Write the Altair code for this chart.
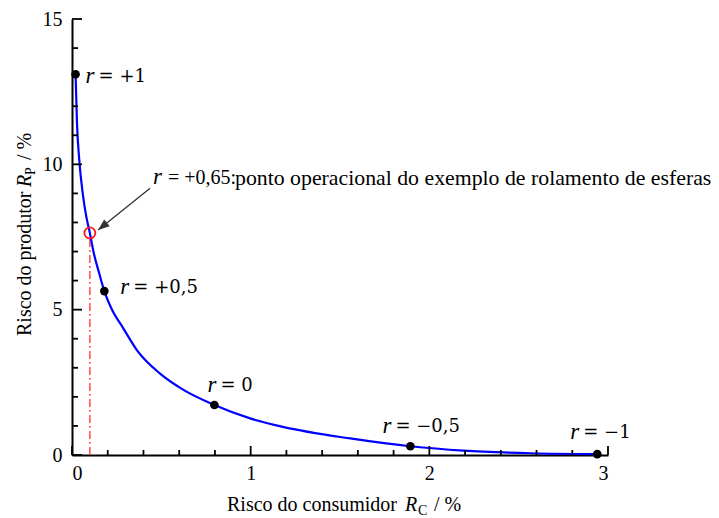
import altair as alt
import pandas as pd

# Producer risk vs consumer risk (%), traced along the correlation r
curve_rc = [0.02, 0.028, 0.04, 0.06, 0.08, 0.10, 0.12, 0.15, 0.181, 0.22, 0.288,
            0.362, 0.493, 0.624, 0.797, 0.997, 1.18, 1.557, 1.894, 2.19, 2.57, 2.94]
curve_rp = [13.1, 11.4, 10.2, 9.0, 8.2, 7.64, 7.0, 6.3, 5.64, 5.05, 4.35,
            3.62, 2.8, 2.24, 1.72, 1.26, 0.97, 0.57, 0.30, 0.15, 0.06, 0.03]

# Marked correlation values on the curve
point_rc = [0.02, 0.181, 0.797, 1.894, 2.94]
point_rp = [13.1, 5.64, 1.72, 0.30, 0.03]
point_labels = ["= +1", "= +0,5", "= 0", "= \u22120,5", "= \u22121"]

# Operating point of the ball-bearing example (r = +0,65)
op_rc = [0.10]
op_rp = [7.64]
op_label = "= +0,65:"
op_text = "ponto operacional do exemplo de rolamento de esferas"

# Arrow from the annotation to the operating point
arrow_rc = [0.437]
arrow_rp = [9.18]
arrow_tip_rc = [0.146]
arrow_tip_rp = [7.74]

x_major = [0, 1, 2, 3]
y_major = [0, 5, 10, 15]
X_TICK_STEP, Y_TICK_STEP = 0.2, 1

W, H = 536, 436
X_MAX, Y_MAX = 3, 15
SERIF = "Liberation Serif, 'Times New Roman', Times, serif"
MATH = "'DejaVu Serif', serif"

x_scale = alt.Scale(domain=[0, X_MAX], nice=False, zero=False)
y_scale = alt.Scale(domain=[0, Y_MAX], nice=False, zero=False)
x_axis = alt.Axis(values=x_major, format="d", grid=False, ticks=False, tickSize=0,
                  domainColor="black", domainWidth=2, labelFont=SERIF,
                  labelFontSize=20, labelColor="black", labelPadding=8, title=None)
y_axis = alt.Axis(values=y_major, format="d", grid=False, ticks=False, tickSize=0,
                  domainColor="black", domainWidth=2, labelFont=SERIF,
                  labelFontSize=20, labelColor="black", labelPadding=10, title=None)


def X(field):
    return alt.X(field, type="quantitative", scale=x_scale, axis=x_axis)


def Y(field):
    return alt.Y(field, type="quantitative", scale=y_scale, axis=y_axis)


curve_df = pd.DataFrame({"rc": curve_rc, "rp": curve_rp, "i": range(len(curve_rc))})
points_df = pd.DataFrame({"rc": point_rc, "rp": point_rp, "lab": point_labels})
op_df = pd.DataFrame({"rc": op_rc, "rp": op_rp, "zero": [0]})
arrow_df = pd.DataFrame({"rc": arrow_rc, "rp": arrow_rp,
                         "rc2": arrow_tip_rc, "rp2": arrow_tip_rp})
one = pd.DataFrame({"k": [0]})

layers = []

# Dash-dot drop line from the operating point
layers.append(
    alt.Chart(op_df).mark_rule(color="#ff4040", strokeWidth=1.4,
                               strokeDash=[8, 3, 2, 3], yOffset=6)
    .encode(x=X("rc"), y=Y("rp"), y2="zero:Q")
)

# The curve
layers.append(
    alt.Chart(curve_df).mark_line(color="#0000ff", strokeWidth=2.2,
                                  interpolate="monotone")
    .encode(x=X("rc"), y=Y("rp"), order="i:Q")
)

# Marked points
layers.append(
    alt.Chart(points_df).mark_point(filled=True, color="black", size=75, opacity=1)
    .encode(x=X("rc"), y=Y("rp"))
)

# Operating point marker
layers.append(
    alt.Chart(op_df).mark_point(filled=False, color="#ff1a1a", size=120,
                                strokeWidth=1.8, opacity=1)
    .encode(x=X("rc"), y=Y("rp"))
)

# Arrow shaft and head
layers.append(
    alt.Chart(arrow_df).mark_rule(color="#333333", strokeWidth=1.3)
    .encode(x=X("rc"), y=Y("rp"), x2="rc2:Q", y2="rp2:Q")
)
layers.append(
    alt.Chart(arrow_df).mark_point(shape="M0,0 L-0.38,1 L0.38,1 Z", filled=True,
                                   color="#333333", size=520, angle=231, opacity=1)
    .encode(x=X("rc2"), y=Y("rp2"))
)

# Point labels: italic r followed by the value
label_offsets = [(10, 2), (16, -4), (-7, -20), (-28, -20), (-27, -22)]
for i, (dx, dy) in enumerate(label_offsets):
    row = points_df.iloc[[i]]
    layers.append(
        alt.Chart(row).mark_text(font=SERIF, fontStyle="italic", fontSize=23,
                                 align="left", baseline="middle", dx=dx, dy=dy,
                                 color="black")
        .encode(x=X("rc"), y=Y("rp"), text=alt.value("r"))
    )
    layers.append(
        alt.Chart(row).mark_text(font=MATH, fontSize=18, align="left",
                                 baseline="middle", dx=dx + 13, dy=dy + 1,
                                 color="black")
        .encode(x=X("rc"), y=Y("rp"), text="lab:N")
    )

# Operating point annotation
layers.append(
    alt.Chart(one).mark_text(font=SERIF, fontStyle="italic", fontSize=23,
                             align="left", baseline="middle", color="black")
    .encode(x=alt.value(81), y=alt.value(158), text=alt.value("r"))
)
layers.append(
    alt.Chart(one).mark_text(font=SERIF, fontSize=20, align="left",
                             baseline="middle", color="black")
    .encode(x=alt.value(96), y=alt.value(159), text=alt.value(op_label))
)
layers.append(
    alt.Chart(one).mark_text(font=SERIF, fontSize=21.8, align="left",
                             baseline="middle", color="black")
    .encode(x=alt.value(163), y=alt.value(159), text=alt.value(op_text))
)


# Axis titles with italic symbols and subscripts
def txt(s, x, y, size=20, style="normal", angle=0):
    return alt.Chart(one).mark_text(font=SERIF, fontSize=size, fontStyle=style,
                                    align="left", baseline="middle", angle=angle,
                                    color="black").encode(
        x=alt.value(x), y=alt.value(y), text=alt.value(s))


layers += [
    txt("Risco do consumidor", 155, 486),
    txt("R", 333, 486, style="italic"),
    txt("C", 346, 492, size=14),
    txt("/ %", 362, 486),
    txt("Risco do produtor", -47, 317, angle=270),
    txt("R", -47, 168, style="italic", angle=270),
    txt("P", -41, 156, size=14, angle=270),
    txt("/ %", -47, 141, angle=270),
]

# Inward ticks: short stubs from each axis line into the plot, longer at
# the labelled positions (pixel lengths converted to data units)
x_major_tip = 9 * Y_MAX / H
x_minor_tip = 5 * Y_MAX / H
layers.append(
    alt.Chart(alt.sequence(0, X_MAX + X_TICK_STEP / 2, X_TICK_STEP, as_="tx"))
    .transform_calculate(
        base="0",
        tip=f"abs(datum.tx - round(datum.tx)) < 1e-6 ? {x_major_tip} : {x_minor_tip}",
    )
    .mark_rule(color="black", strokeWidth=1.8)
    .encode(x=X("tx:Q"), y=Y("base:Q"), y2="tip:Q")
)
y_major_tip = 10 * X_MAX / W
y_minor_tip = 6 * X_MAX / W
layers.append(
    alt.Chart(alt.sequence(0, Y_MAX + Y_TICK_STEP / 2, Y_TICK_STEP, as_="ty"))
    .transform_calculate(
        base="0",
        tip=f"datum.ty % 5 === 0 ? {y_major_tip} : {y_minor_tip}",
    )
    .mark_rule(color="black", strokeWidth=1.8)
    .encode(y=Y("ty:Q"), x=X("base:Q"), x2="tip:Q")
)

chart = alt.layer(*layers).properties(
    width=W, height=H,
    autosize=alt.AutoSizeParams(type="none"),
    padding={"left": 72, "top": 19, "right": 111, "bottom": 63},
    background="white",
).configure_view(stroke=None)

chart.save("out.html", embed_options={"renderer": "svg", "actions": False})
